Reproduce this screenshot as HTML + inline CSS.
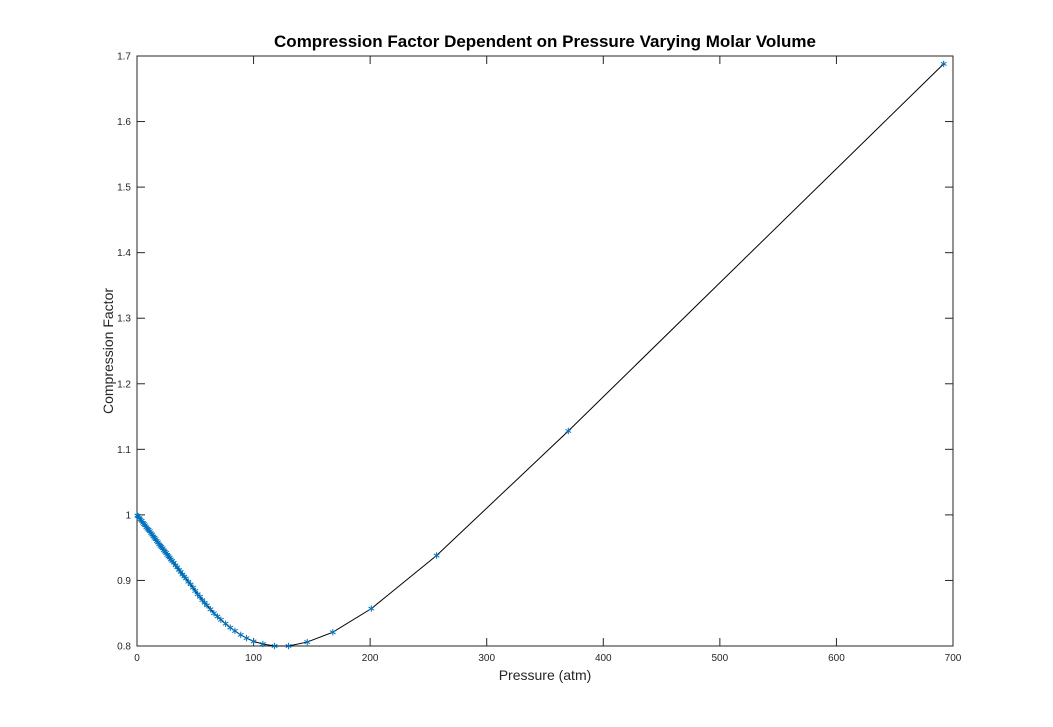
<!DOCTYPE html>
<html><head><meta charset="utf-8"><style>
body{margin:0;background:#fff}
svg{display:block;font-family:"Liberation Sans",Arial,sans-serif}
</style></head><body>
<svg id="chart" width="1053" height="727" viewBox="0 0 1053 727">
<rect width="1053" height="727" fill="#fff"/>
<g id="plot"></g>
</svg>
<script>
const pressure = [0.3,1,2,3,4,5,6,7,8,9,10,11,12,13,14,15,16,17,18,19,20,21,22,23,24,25,26,27,28,29,30,31.5,33,34.5,36,37.5,39,40.5,42,44,46,48,50,52,54,56,58,60,63,66,69,72,76,80,84,89,94,100,108,118,130,146,168,201,257,370,692];
const zfactor = [0.999,0.998,0.995,0.993,0.991,0.988,0.986,0.984,0.981,0.979,0.977,0.975,0.972,0.970,0.967,0.965,0.963,0.960,0.958,0.955,0.953,0.951,0.949,0.946,0.944,0.942,0.939,0.937,0.935,0.932,0.930,0.927,0.923,0.920,0.916,0.913,0.909,0.906,0.903,0.898,0.894,0.889,0.884,0.879,0.875,0.870,0.866,0.862,0.856,0.850,0.845,0.840,0.834,0.828,0.823,0.817,0.812,0.807,0.803,0.800,0.800,0.806,0.821,0.857,0.938,1.128,1.688];
const xTicks = [0,100,200,300,400,500,600,700];
const yTicks = [0.8,0.9,1,1.1,1.2,1.3,1.4,1.5,1.6,1.7];
const yTickLabels = ["0.8","0.9","1","1.1","1.2","1.3","1.4","1.5","1.6","1.7"];

const L=137,R=953,T=56,B=646;
const xMin=0,xMax=700,yMin=0.8,yMax=1.7;
const sx=v=>L+(v-xMin)/(xMax-xMin)*(R-L);
const sy=v=>B-(v-yMin)/(yMax-yMin)*(B-T);
const NS="http://www.w3.org/2000/svg";
const g=document.getElementById('plot');
function mk(tag,attrs,parent){const e=document.createElementNS(NS,tag);for(const k in attrs)e.setAttribute(k,attrs[k]);(parent||g).appendChild(e);return e;}

const box=mk('rect',{x:L,y:T,width:R-L,height:B-T,fill:'none',stroke:'#262626','stroke-width':1});



xTicks.forEach(v=>{
  const x=sx(v);
  const t1=mk('line',{x1:x,y1:B,x2:x,y2:B-8,stroke:'#262626'});
  
  
  const t2=mk('line',{x1:x,y1:T,x2:x,y2:T+8,stroke:'#262626'});
  
  
  const lb=mk('text',{x:x,y:B+15,'font-size':10,'text-anchor':'middle',fill:'#262626'});
  lb.textContent=String(v);
  
  
});
yTicks.forEach((v,i)=>{
  const y=sy(v);
  const t1=mk('line',{x1:L,y1:y,x2:L+8,y2:y,stroke:'#262626'});
  
  
  const t2=mk('line',{x1:R,y1:y,x2:R-8,y2:y,stroke:'#262626'});
  
  
  const lb=mk('text',{x:L-6,y:y+3.5,'font-size':10,'text-anchor':'end',fill:'#262626'});
  lb.textContent=yTickLabels[i];
  
  
});

const pts=pressure.map((p,i)=>sx(p).toFixed(2)+','+sy(zfactor[i]).toFixed(2)).join(' ');
const line=mk('polyline',{points:pts,fill:'none',stroke:'#000','stroke-width':1});



pressure.forEach((p,i)=>{
  const x=sx(p),y=sy(zfactor[i]),r=3.2;
  const m=mk('g',{stroke:'#0072BD','stroke-width':1});
  
  
  for(let a=0;a<3;a++){
    const ang=Math.PI/2+a*Math.PI/3;
    mk('line',{x1:x-r*Math.cos(ang),y1:y-r*Math.sin(ang),x2:x+r*Math.cos(ang),y2:y+r*Math.sin(ang)},m);
  }
});

const title=mk('text',{x:545,y:47,'font-size':17,'font-weight':'bold','text-anchor':'middle',fill:'#000'});
title.textContent='Compression Factor Dependent on Pressure Varying Molar Volume';


const xl=mk('text',{x:545,y:680,'font-size':14,'text-anchor':'middle',fill:'#262626'});
xl.textContent='Pressure (atm)';


const yl=mk('text',{x:0,y:0,'font-size':14,'text-anchor':'middle',fill:'#262626',transform:'translate(113,351) rotate(-90)'});
yl.textContent='Compression Factor';


</script>
</body></html>
